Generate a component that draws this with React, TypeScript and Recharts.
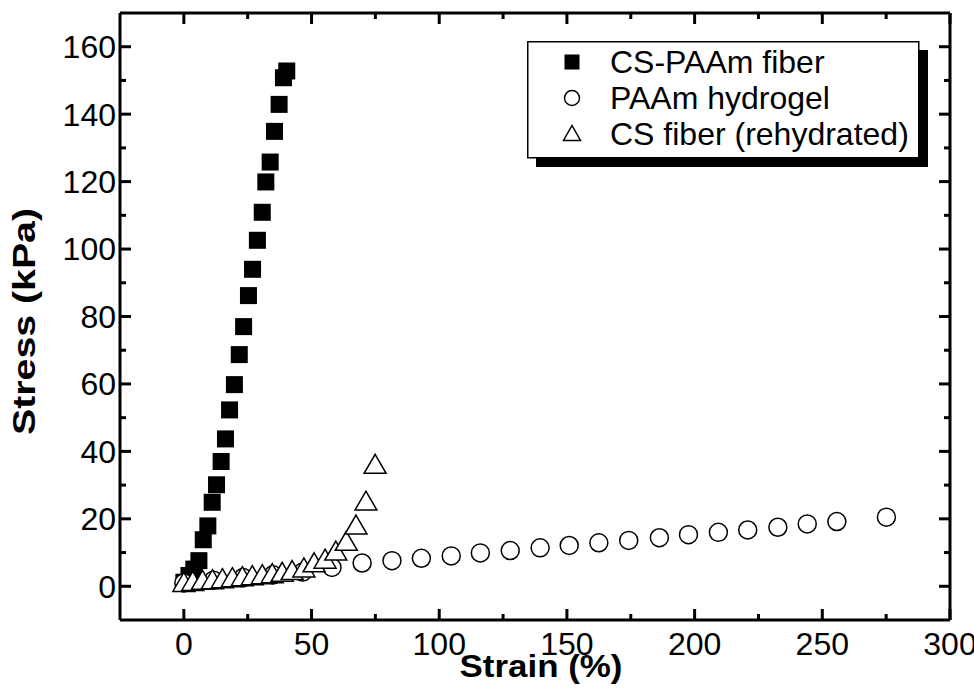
import { Label, Legend, Scatter, ScatterChart, XAxis, YAxis } from 'recharts'

const squareStrain = [0, 2, 3.9, 5.9, 7.6, 9.4, 11.1, 12.8, 14.6, 16.3, 17.9, 19.8, 21.7, 23.4, 25.3, 26.9, 28.8, 30.7, 32.1, 33.8, 35.5, 37.3, 39, 40.3]
const squareStress = [1.2, 3.2, 5.1, 7.6, 13.8, 17.9, 24.9, 30.1, 37, 43.7, 52.3, 59.8, 68.7, 77, 86.2, 94, 102.6, 110.9, 119.9, 125.8, 134.9, 142.9, 150.8, 152.8]

const circleStrain = [0, 11.6, 23.2, 34.9, 46.5, 58, 69.8, 81.5, 93, 104.7, 116.1, 127.8, 139.5, 150.9, 162.5, 174.2, 186.2, 197.6, 209.3, 220.8, 232.6, 244.1, 255.7, 275.1]
const circleStress = [1.0, 1.8, 2.6, 3.4, 4.2, 5.6, 6.9, 7.6, 8.3, 9.0, 9.9, 10.6, 11.4, 12.1, 12.9, 13.6, 14.4, 15.3, 16.0, 16.7, 17.5, 18.5, 19.2, 20.5]

const triStrain = [0, 3.5, 7.3, 11.2, 15.1, 19, 22.9, 26.8, 30.7, 34.6, 38.5, 42.4, 47, 51, 55.3, 59.5, 63.6, 67.4, 71.3, 74.9]
const triStress = [1.3, 1.6, 1.9, 2.1, 2.4, 2.7, 3.0, 3.3, 3.6, 3.9, 4.3, 4.8, 5.6, 7.1, 8.2, 10.6, 13.5, 18.3, 25.4, 36.3]

const seriesNames = ['CS-PAAm fiber', 'PAAm hydrogel', 'CS fiber (rehydrated)']

const xMajor = [0, 50, 100, 150, 200, 250, 300]
const xMinor = [25, 75, 125, 175, 225, 275]
const yMajor = [0, 20, 40, 60, 80, 100, 120, 140, 160]
const yMinor = [10, 30, 50, 70, 90, 110, 130, 150]

const toPoints = (xs: number[], ys: number[]) => xs.map((x, i) => ({ x, y: ys[i] }))
const xTicks = [...xMajor, ...xMinor].sort((a, b) => a - b)
const yTicks = [...yMajor, ...yMinor].sort((a, b) => a - b)

const FONT = '"Liberation Sans", Arial, Helvetica, sans-serif'
const MAJOR = 11
const MINOR = 6

const SquareMark = ({ cx, cy, s = 17 }: any) => (
  <rect x={cx - s / 2} y={cy - s / 2} width={s} height={s} fill='#000' />
)
const CircleMark = ({ cx, cy, r = 9 }: any) => (
  <circle cx={cx} cy={cy} r={r} fill='#fff' stroke='#000' strokeWidth={1.5} />
)
const TriMark = ({ cx, cy, w = 22, h = 19 }: any) => (
  <polygon
    points={`${cx},${cy - h / 2} ${cx + w / 2},${cy + h / 2} ${cx - w / 2},${cy + h / 2}`}
    fill='#fff'
    stroke='#000'
    strokeWidth={1.5}
  />
)
const NoMark = () => <g />

const axisLine = { stroke: '#000', strokeWidth: 3 }
const xDomain = [-25, 300]
const yDomain = [-10, 170]

// ticks point into the plot; (x, y) is the point on the frame
function XTick({ x, y, payload, side }: any) {
  const v = payload.value
  const major = xMajor.includes(v)
  const len = major ? MAJOR : MINOR
  const dir = side === 'bottom' ? -1 : 1
  return (
    <g>
      <line x1={x} y1={y} x2={x} y2={y + dir * len} stroke='#000' strokeWidth={3} />
      {side === 'bottom' && major && (
        <text x={x} y={y + 12} dy='0.71em' textAnchor='middle' fontSize={32} fontFamily={FONT} fill='#000'>
          {v}
        </text>
      )}
    </g>
  )
}

function YTick({ x, y, payload, side }: any) {
  const v = payload.value
  const major = yMajor.includes(v)
  const len = major ? MAJOR : MINOR
  const dir = side === 'left' ? 1 : -1
  return (
    <g>
      <line x1={x} y1={y} x2={x + dir * len} y2={y} stroke='#000' strokeWidth={3} />
      {side === 'left' && major && (
        <text x={x - 4} y={y} dy='0.355em' textAnchor='end' fontSize={32} fontFamily={FONT} fill='#000'>
          {v}
        </text>
      )}
    </g>
  )
}

function LegendBox() {
  const rows = [
    { name: seriesNames[0], mark: <SquareMark cx={45} cy={21} s={15} /> },
    { name: seriesNames[1], mark: <CircleMark cx={45} cy={57} r={7.5} /> },
    { name: seriesNames[2], mark: <TriMark cx={45} cy={92} w={17} h={15} /> },
  ]
  return (
    <svg width={405} height={130} style={{ display: 'block', overflow: 'visible' }}>
      <rect x={9} y={9} width={392} height={117} fill='#000' />
      <rect x={0.75} y={0.75} width={391} height={116} fill='#fff' stroke='#000' strokeWidth={1.5} />
      {rows.map((r) => (
        <g key={r.name}>{r.mark}</g>
      ))}
      {rows.map((r, i) => (
        <text key={r.name + 't'} x={83} y={32 + i * 36} fontSize={32} fontFamily={FONT} fill='#000'>
          {r.name}
        </text>
      ))}
    </svg>
  )
}

export default function App() {
  const squares = toPoints(squareStrain, squareStress)
  return (
    <div style={{ position: 'absolute', left: 0, top: 0, background: '#fff' }}>
      <ScatterChart width={974} height={696} margin={{ top: 13, right: 24, bottom: 0, left: 0 }}>
        <XAxis
          xAxisId='main'
          type='number'
          dataKey='x'
          domain={xDomain}
          allowDataOverflow
          ticks={xTicks}
          interval={0}
          height={76}
          axisLine={axisLine}
          tickLine={false}
          tickSize={0}
          tickMargin={0}
          tick={(p: any) => <XTick {...p} side='bottom' />}
        >
          <Label
            content={({ viewBox }: any) => (
              <text
                x={viewBox.x + viewBox.width / 2 + 6}
                y={viewBox.y + 57}
                textAnchor='middle'
                fontSize={32}
                fontWeight='bold'
                fontFamily={FONT}
                textLength={163}
                lengthAdjust='spacingAndGlyphs'
                fill='#000'
              >
                Strain (%)
              </text>
            )}
          />
        </XAxis>
        <YAxis
          yAxisId='main'
          type='number'
          dataKey='y'
          domain={yDomain}
          allowDataOverflow
          ticks={yTicks}
          interval={0}
          width={120}
          axisLine={axisLine}
          tickLine={false}
          tickSize={0}
          tickMargin={0}
          tick={(p: any) => <YTick {...p} side='left' />}
        >
          <Label
            content={({ viewBox }: any) => {
              const cx = 35
              const cy = viewBox.y + viewBox.height / 2 + 5
              return (
                <text
                  x={cx}
                  y={cy}
                  transform={`rotate(-90 ${cx} ${cy})`}
                  textAnchor='middle'
                  fontSize={32}
                  fontWeight='bold'
                  fontFamily={FONT}
                  textLength={227}
                  lengthAdjust='spacingAndGlyphs'
                  fill='#000'
                >
                  Stress (kPa)
                </text>
              )
            }}
          />
        </YAxis>
        <XAxis
          xAxisId='top'
          orientation='top'
          mirror
          type='number'
          dataKey='x'
          domain={xDomain}
          allowDataOverflow
          ticks={xTicks}
          interval={0}
          height={1}
          axisLine={axisLine}
          tickLine={false}
          tickSize={0}
          tickMargin={0}
          tick={(p: any) => <XTick {...p} side='top' />}
        />
        <YAxis
          yAxisId='right'
          orientation='right'
          mirror
          type='number'
          dataKey='y'
          domain={yDomain}
          allowDataOverflow
          ticks={yTicks}
          interval={0}
          width={1}
          axisLine={axisLine}
          tickLine={false}
          tickSize={0}
          tickMargin={0}
          tick={(p: any) => <YTick {...p} side='right' />}
        />

        {/* invisible series that keeps the top/right frame axes bound */}
        <Scatter data={squares} xAxisId='top' yAxisId='right' shape={NoMark} legendType='none' isAnimationActive={false} />

        <Scatter
          name={seriesNames[0]}
          data={squares}
          xAxisId='main'
          yAxisId='main'
          shape={(p: any) => <SquareMark cx={p.cx} cy={p.cy} />}
          isAnimationActive={false}
        />
        <Scatter
          name={seriesNames[1]}
          data={toPoints(circleStrain, circleStress)}
          xAxisId='main'
          yAxisId='main'
          shape={(p: any) => <CircleMark cx={p.cx} cy={p.cy} />}
          isAnimationActive={false}
        />
        <Scatter
          name={seriesNames[2]}
          data={toPoints(triStrain, triStress)}
          xAxisId='main'
          yAxisId='main'
          shape={(p: any) => <TriMark cx={p.cx} cy={p.cy} />}
          isAnimationActive={false}
        />
        <Legend
          layout='vertical'
          align='center'
          verticalAlign='middle'
          content={() => <LegendBox />}
          wrapperStyle={{ position: 'absolute', left: 527, top: 41, width: 'auto', height: 'auto' }}
        />
      </ScatterChart>
    </div>
  )
}
